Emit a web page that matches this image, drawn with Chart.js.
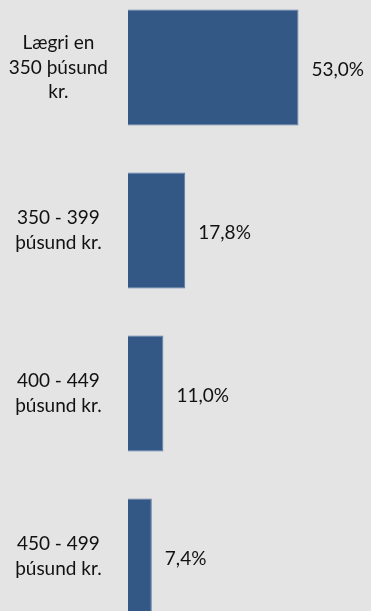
<!DOCTYPE html>
<html>
<head>
<meta charset="utf-8">
<script src="https://cdn.jsdelivr.net/npm/chart.js@4/dist/chart.umd.min.js"></script>
<style>
  html, body { margin: 0; padding: 0; background: #e4e4e4; overflow: hidden; }
  #wrap { position: absolute; left: 0; top: -14px; width: 371px; height: 652px; }
</style>
</head>
<body>
<div id="wrap"><canvas id="chartLaun"></canvas></div>
<script>
// flokkar og gildi (%)
const categories = [
  ['Lægri en', '350 þúsund', 'kr.'],
  ['350 - 399', 'þúsund kr.'],
  ['400 - 449', 'þúsund kr.'],
  ['450 - 499', 'þúsund kr.'],
];
const values = [53.0, 17.8, 11.0, 7.4];

const fmt = (v) => v.toFixed(1).replace('.', ',') + '%';
const FONT = 'Lato, "Open Sans", sans-serif';

new Chart(document.getElementById('chartLaun'), {
  type: 'bar',
  data: {
    labels: categories,
    datasets: [{
      data: values,
      backgroundColor: '#335886',
      borderColor: '#5b7aa6',
      borderWidth: 1,
      barPercentage: 0.711,
      categoryPercentage: 1,
    }],
  },
  options: {
    indexAxis: 'y',
    responsive: true,
    maintainAspectRatio: false,
    animation: false,
    layout: { padding: { left: 0, right: 50, top: 0, bottom: 0 } },
    plugins: { legend: { display: false }, tooltip: { enabled: false } },
    scales: {
      x: { display: false, min: 0, max: 60 },
      y: {
        grid: { display: false, drawTicks: false },
        border: { display: false },
        afterFit(scale) {
          scale.width = 128;
          // labels hanga ut fyrir svaedid, engin auka spassia
          scale.paddingTop = 0;
          scale.paddingBottom = 0;
        },
        ticks: {
          crossAlign: 'center',
          padding: 20,
          color: '#111',
          font: { family: FONT, size: 19, lineHeight: 1.3 },
        },
      },
    },
  },
  plugins: [{
    id: 'valueLabels',
    afterDatasetsDraw(chart) {
      const ctx = chart.ctx;
      const meta = chart.getDatasetMeta(0);
      ctx.save();
      ctx.fillStyle = '#111';
      ctx.font = '19px ' + FONT;
      ctx.textAlign = 'left';
      ctx.textBaseline = 'middle';
      meta.data.forEach((bar, i) => {
        ctx.fillText(fmt(values[i]), bar.x + 13, bar.y + 2);
      });
      ctx.restore();
    },
  }],
});
</script>
</body>
</html>
